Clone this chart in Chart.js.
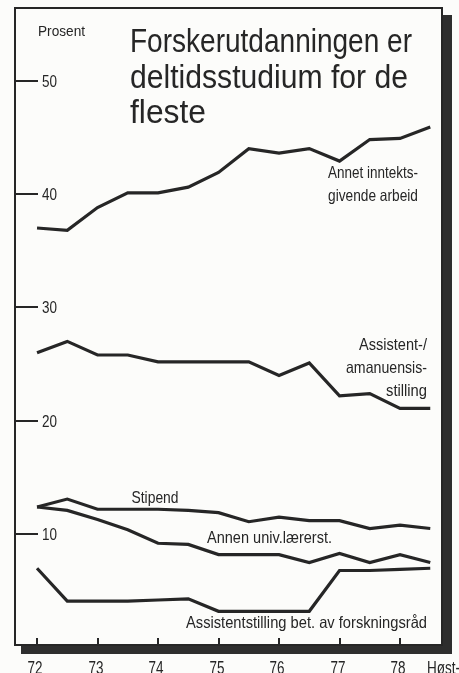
<!DOCTYPE html>
<html>
<head>
<meta charset="utf-8">
<script src="https://cdn.jsdelivr.net/npm/chart.js@4/dist/chart.umd.min.js"></script>
<style>
html,body{margin:0;padding:0;background:#fcfcfa;}
#wrap{width:459px;height:673px;position:relative;}
</style>
</head>
<body>
<div id="wrap"><canvas id="c" width="459" height="673"></canvas></div>
<script>
// ---- data ----
const periods = [72, 72.5, 73, 73.5, 74, 74.5, 75, 75.5, 76, 76.5, 77, 77.5, 78, 78.5];
const annetArbeid   = [37.0, 36.8, 38.8, 40.1, 40.1, 40.6, 41.9, 44.0, 43.6, 44.0, 42.9, 44.8, 44.9, 45.9];
const assistentAman = [26.0, 27.0, 25.8, 25.8, 25.2, 25.2, 25.2, 25.2, 24.0, 25.1, 22.2, 22.4, 21.1, 21.1];
const stipend       = [12.4, 13.1, 12.2, 12.2, 12.2, 12.1, 11.9, 11.1, 11.5, 11.2, 11.2, 10.5, 10.8, 10.5];
const annenUniv     = [12.4, 12.1, 11.3, 10.4, 9.2, 9.1, 8.2, 8.2, 8.2, 7.5, 8.3, 7.5, 8.2, 7.5];
const assistentNF   = [7.0, 4.1, 4.1, 4.1, 4.2, 4.3, 3.2, 3.2, 3.2, 3.2, 6.8, 6.8, 6.9, 7.0];
const yTicks = [10, 20, 30, 40, 50];
const xTicks = [72, 73, 74, 75, 76, 77, 78];
const xTickLabels = ['72', '73', '74', '75', '76', '77', '78'];
const title = ['Forskerutdanningen er', 'deltidsstudium for de', 'fleste'];
const yAxisTitle = 'Prosent';
const xAxisTitle = 'Høst-';

const INK = '#262626';
const FONT = '"Liberation Sans", Arial, sans-serif';

function toPts(vals){ return periods.map((p,i)=>({x:p, y:vals[i]})); }

function fitText(ctx, text, x, y, size, width, align, weight){
  ctx.save();
  ctx.font = (weight || 'normal') + ' ' + size + 'px ' + FONT;
  const w = ctx.measureText(text).width;
  const s = width ? width / w : 1;
  let left = x;
  if (align === 'right') left = x - w*s;
  else if (align === 'center') left = x - w*s/2;
  ctx.translate(left, y);
  ctx.scale(s, 1);
  ctx.textAlign = 'left';
  ctx.textBaseline = 'alphabetic';
  ctx.fillStyle = INK;
  ctx.fillText(text, 0, 0);
  ctx.restore();
}

const decor = {
  id: 'decor',
  beforeDraw(chart){
    const ctx = chart.ctx;
    ctx.save();
    ctx.fillStyle = '#fcfcfa';
    ctx.fillRect(0,0,chart.width,chart.height);
    ctx.restore();
  },
  afterDraw(chart){
    const ctx = chart.ctx;
    const a = chart.chartArea;
    const xs = chart.scales.x, ys = chart.scales.y;
    ctx.save();
    // shadow
    ctx.fillStyle = '#2e2e2e';
    ctx.fillRect(a.right, a.top + 7, 10, a.bottom - a.top + 2);
    ctx.fillRect(a.left + 6, a.bottom, a.right - a.left + 4, 9);
    // frame
    ctx.strokeStyle = INK;
    ctx.lineWidth = 2;
    ctx.strokeRect(a.left, a.top, a.right - a.left, a.bottom - a.top);
    // y ticks
    ctx.lineWidth = 2;
    yTicks.forEach(v=>{
      const py = Math.round(ys.getPixelForValue(v));
      ctx.beginPath(); ctx.moveTo(a.left, py); ctx.lineTo(a.left + 23, py); ctx.stroke();
      fitText(ctx, String(v), a.left + 27, py + 6, 16, 15, 'left', '500');
    });
    // x ticks
    xTicks.forEach((v,i)=>{
      const px = Math.round(xs.getPixelForValue(v));
      ctx.beginPath(); ctx.moveTo(px, a.bottom - 7); ctx.lineTo(px, a.bottom); ctx.stroke();
      fitText(ctx, xTickLabels[i], px - 2, 674, 18, 15, 'center', '500');
    });
    fitText(ctx, xAxisTitle, 427, 674, 18, 33, 'left', '500');
    // axis title
    fitText(ctx, yAxisTitle, 38, 36, 14.5, 47, 'left', '500');
    // title
    fitText(ctx, title[0], 130, 52, 33, 282, 'left');
    fitText(ctx, title[1], 130, 88, 33, 278, 'left');
    fitText(ctx, title[2], 130, 123, 33, 76, 'left');
    // series labels
    const L = 16.5, W = '500';
    fitText(ctx, 'Annet inntekts-', 418, 178, L, 90, 'right', W);
    fitText(ctx, 'givende arbeid', 418, 201, L, 90, 'right', W);
    fitText(ctx, 'Assistent-/', 427, 350, L, 68, 'right', W);
    fitText(ctx, 'amanuensis-', 427, 373, L, 81, 'right', W);
    fitText(ctx, 'stilling', 427, 396, L, 41, 'right', W);
    fitText(ctx, 'Stipend', 155, 503, L, 47, 'center', W);
    fitText(ctx, 'Annen univ.lærerst.', 207, 543, L, 125, 'left', W);
    fitText(ctx, 'Assistentstilling bet. av forskningsråd', 427, 628, L, 241, 'right', W);
    ctx.restore();
  }
};

const mk = (label, vals) => ({
  label, data: toPts(vals),
  borderColor: INK, borderWidth: 3.2, pointRadius: 0, tension: 0,
  fill: false, borderJoinStyle: 'miter', borderCapStyle: 'butt'
});

new Chart(document.getElementById('c'), {
  type: 'line',
  data: {
    datasets: [
      mk('Annet inntektsgivende arbeid', annetArbeid),
      mk('Assistent-/amanuensisstilling', assistentAman),
      mk('Stipend', stipend),
      mk('Annen univ.lærerst.', annenUniv),
      mk('Assistentstilling bet. av forskningsråd', assistentNF)
    ]
  },
  options: {
    responsive: false,
    animation: false,
    devicePixelRatio: 1,
    layout: { padding: { left: 15, top: 8, right: 17, bottom: 28 } },
    plugins: { legend: { display: false }, tooltip: { enabled: false } },
    scales: {
      x: { type: 'linear', display: false, min: 71.636, max: 78.694 },
      y: { type: 'linear', display: false, min: 0.23, max: 56.4 }
    }
  },
  plugins: [decor]
});
</script>
</body>
</html>
